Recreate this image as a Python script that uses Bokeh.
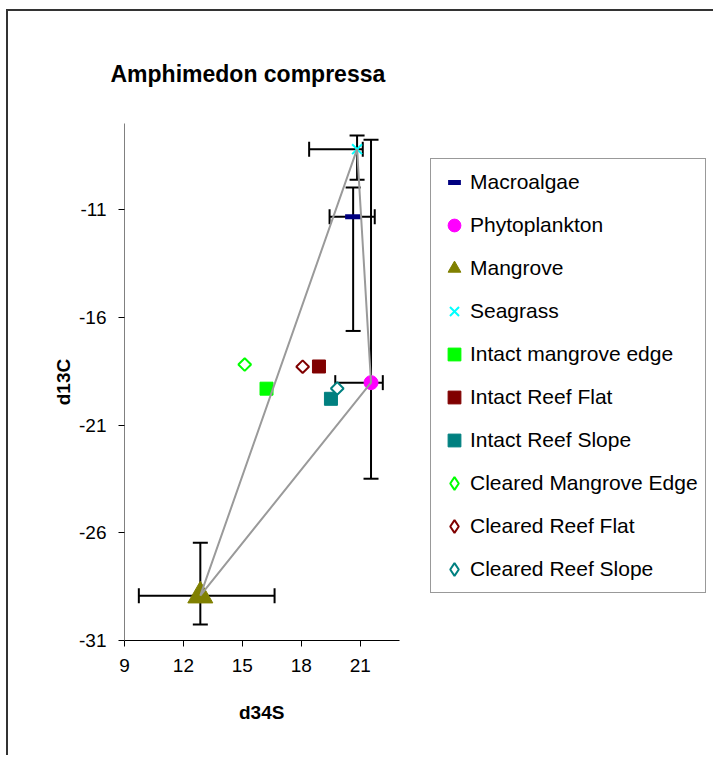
import math
from bokeh.plotting import figure
from bokeh.models import (ColumnDataSource, Whisker, TeeHead, Legend, LegendItem,
                          Range1d, FixedTicker, Title)
from bokeh.embed import file_html
from bokeh.resources import INLINE

# ---- data ----
source_names = ["Macroalgae", "Phytoplankton", "Mangrove", "Seagrass"]
source_d34s = [20.64, 21.55, 12.86, 20.84]
source_d13c = [-11.33, -19.03, -28.92, -8.19]
source_d34s_low = [19.44, 19.73, 9.73, 18.40]
source_d34s_high = [21.74, 22.15, 16.64, 21.13]
source_d13c_low = [-16.63, -23.49, -30.26, -9.61]
source_d13c_high = [-9.97, -7.76, -26.46, -7.56]

consumer_names = ["Intact mangrove edge", "Intact Reef Flat", "Intact Reef Slope",
                  "Cleared Mangrove Edge", "Cleared Reef Flat", "Cleared Reef Slope"]
consumer_d34s = [16.23, 18.90, 19.51, 15.12, 18.07, 19.83]
consumer_d13c = [-19.31, -18.28, -19.78, -18.19, -18.29, -19.30]

# mixing polygon: Seagrass -> Mangrove -> Phytoplankton -> Seagrass
polygon_order = ["Seagrass", "Mangrove", "Phytoplankton", "Seagrass"]

x_ticks = [9, 12, 15, 18, 21]
x_tick_labels = ["9", "12", "15", "18", "21"]
y_ticks = [-31, -26, -21, -16, -11]
y_tick_labels = ["-31", "-26", "-21", "-16", "-11"]
X_AXIS = (9, 23)
Y_RANGE = (-31, -7)
x_title = "d34S"
y_title = "d13C"
chart_title = "Amphimedon compressa"

FONT = "Liberation Sans"

# layout (pixels)
W, H = 707, 746
LEFT, TOP, BOTTOM = 116, 112, 117
AXIS_PX = 275  # length of the drawn x axis
frame_w = W - LEFT
x_max = X_AXIS[0] + (X_AXIS[1] - X_AXIS[0]) * frame_w / AXIS_PX

p = figure(width=W, height=H, output_backend="svg", toolbar_location=None,
           x_range=Range1d(X_AXIS[0], x_max), y_range=Range1d(*Y_RANGE),
           min_border_left=LEFT, min_border_right=0,
           min_border_top=TOP, min_border_bottom=BOTTOM)
# chart-area border: left and top edges are visible in the reference
p.styles = {"margin-left": "6px", "margin-top": "9px",
            "border-left": "2px solid #333333", "border-top": "2px solid #333333"}
p.outline_line_color = None
p.xgrid.grid_line_color = None
p.ygrid.grid_line_color = None
p.background_fill_color = "white"
p.border_fill_color = "white"

# title
p.title.text = chart_title
p.title.text_font = FONT
p.title.text_font_size = "23px"
p.title.text_font_style = "bold"
p.title.text_color = "black"
p.title.align = "left"
p.title.offset = -14
p.title.standoff = 73

# axes
for ax in (p.xaxis[0], p.yaxis[0]):
    ax.major_label_text_font = FONT
    ax.major_label_text_font_size = "19px"
    ax.major_label_text_color = "black"
    ax.axis_label_text_font = FONT
    ax.axis_label_text_font_size = "19px"
    ax.axis_label_text_font_style = "bold"
    ax.axis_label_text_color = "black"
    ax.minor_tick_line_color = None
    ax.major_tick_in = 0
    ax.major_tick_out = 6
    ax.major_tick_line_color = "black"
    ax.major_label_standoff = 12
p.xaxis.ticker = FixedTicker(ticks=x_ticks)
p.yaxis.ticker = FixedTicker(ticks=y_ticks)
p.xaxis.major_label_overrides = dict(zip(x_ticks, x_tick_labels))
p.yaxis.major_label_overrides = dict(zip(y_ticks, y_tick_labels))
p.xaxis.bounds = X_AXIS
p.yaxis.axis_label = y_title
p.xaxis.axis_line_color = "black"
p.yaxis.axis_line_color = "#808080"
p.yaxis.axis_label_standoff = 2

# x axis title, centred under the drawn part of the axis
p.add_layout(Title(text=x_title, text_font=FONT, text_font_size="19px",
                   text_font_style="bold", text_color="black",
                   align="left", offset=AXIS_PX / 2 - 23, standoff=51), "below")

# error bars
src = ColumnDataSource(dict(x=source_d34s, y=source_d13c,
                            xlo=source_d34s_low, xhi=source_d34s_high,
                            ylo=source_d13c_low, yhi=source_d13c_high))
for dim, base, lo, hi in (("width", "y", "xlo", "xhi"), ("height", "x", "ylo", "yhi")):
    w = Whisker(source=src, base=base, lower=lo, upper=hi, dimension=dim,
                line_color="black", line_width=2,
                lower_head=TeeHead(size=15, line_color="black", line_width=2),
                upper_head=TeeHead(size=15, line_color="black", line_width=2))
    p.add_layout(w)

items = []
idx = {n: i for i, n in enumerate(source_names)}

def one(names, xs, ys, name):
    i = names.index(name)
    return dict(x=[xs[i]], y=[ys[i]])

r = p.scatter(source=one(source_names, source_d34s, source_d13c, "Macroalgae"),
              marker="dash", size=16, line_color="#000080", line_width=5)
items.append(LegendItem(label="Macroalgae", renderers=[r]))
r = p.scatter(source=one(source_names, source_d34s, source_d13c, "Phytoplankton"),
              marker="circle", size=14, fill_color="#FF00FF", line_color="#FF00FF")
items.append(LegendItem(label="Phytoplankton", renderers=[r]))
r = p.scatter(source=one(source_names, source_d34s, source_d13c, "Mangrove"),
              marker="triangle", size=25, fill_color="#808000", line_color="#808000")
items.append(LegendItem(label="Mangrove", renderers=[r]))
r = p.scatter(source=one(source_names, source_d34s, source_d13c, "Seagrass"),
              marker="x", size=14, line_color="#00FFFF", line_width=2)
items.append(LegendItem(label="Seagrass", renderers=[r]))

cons_colors = ["#00FF00", "#800000", "#008080", "#00FF00", "#800000", "#008080"]
for k, name in enumerate(consumer_names):
    d = one(consumer_names, consumer_d34s, consumer_d13c, name)
    if name.startswith("Intact"):
        r = p.scatter(source=d, marker="square", size=13,
                      fill_color=cons_colors[k], line_color=cons_colors[k])
        items.append(LegendItem(label=name, renderers=[r]))
    else:
        p.scatter(source=d, marker="square", angle=math.pi / 4, size=9,
                  fill_color="white", line_color=cons_colors[k], line_width=2)
        # legend swatch only (not drawn in the plot): a hollow diamond
        proxy = p.scatter(source=dict(x=[float("nan")], y=[float("nan")]),
                          marker="diamond", size=12,
                          fill_color="white", line_color=cons_colors[k], line_width=2)
        items.append(LegendItem(label=name, renderers=[proxy]))

# mixing polygon lines (on top)
poly_x = [source_d34s[idx[n]] for n in polygon_order]
poly_y = [source_d13c[idx[n]] for n in polygon_order]
p.line(poly_x, poly_y, line_color="#9a9a9a", line_width=2)

legend = Legend(items=items, location=(306, 47),
                label_text_font=FONT, label_text_font_size="21px",
                label_text_color="black",
                glyph_width=32, glyph_height=32, label_standoff=0,
                padding=7, spacing=11, margin=0,
                border_line_color="#333333", border_line_width=1,
                background_fill_color="white", background_fill_alpha=1)
p.add_layout(legend, "center")

open("out.html", "w").write(file_html(p, INLINE))
